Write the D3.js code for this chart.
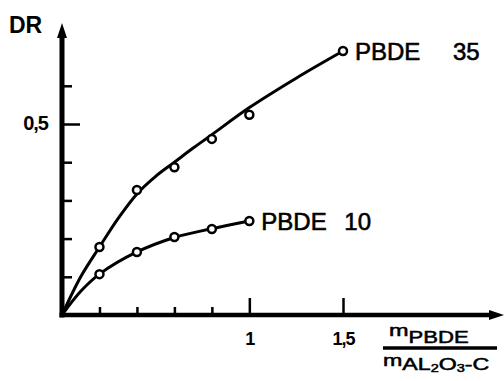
<!DOCTYPE html>
<html>
<head>
<meta charset="utf-8">
<script src="https://cdn.jsdelivr.net/npm/d3@7"></script>
<style>
  html, body { margin: 0; padding: 0; background: #fff; }
  svg { display: block; }
  text { font-family: "Liberation Sans", Arial, sans-serif; fill: #000; }
</style>
</head>
<body>
<svg id="chart" width="504" height="381"></svg>
<script>
// ---- data ----
const xMeasured = [0.2, 0.4, 0.6, 0.8, 1.0, 1.5];
const pbde35Points = [0.178, 0.327, 0.387, 0.461, 0.524, 0.691];
const xMeasured10 = [0.2, 0.4, 0.6, 0.8, 1.0];
const pbde10Points = [0.107, 0.165, 0.204, 0.225, 0.246];

// hand-drawn fitted curves
const xCurve35 = [0, 0.1, 0.2, 0.3, 0.4, 0.5, 0.6, 0.7, 0.8, 1.0, 1.25, 1.5];
const yCurve35 = [0, 0.1, 0.178, 0.253, 0.317, 0.363, 0.40, 0.437, 0.472, 0.543, 0.62, 0.691];
const xCurve10 = [0, 0.1, 0.2, 0.4, 0.6, 0.8, 1.0];
const yCurve10 = [0, 0.062, 0.107, 0.165, 0.203, 0.226, 0.246];

const xMinorTicks = [0.2, 0.4, 0.6, 0.8];
const xMajorTicks = [1, 1.5];
const xTickLabels = ["1", "1,5"];
const yMinorTicks = [0.1, 0.2, 0.3, 0.4, 0.6];
const yMajorTicks = [0.5];
const yTickLabels = ["0,5"];
const seriesNames = ["PBDE", "PBDE"];
const seriesNums = ["35", "10"];

// ---- layout ----
const svg = d3.select("#chart");
const x = d3.scaleLinear().domain([0, 1.5]).range([62, 343]);
const y = d3.scaleLinear().domain([0, 0.5]).range([315, 124]);
const ox = x(0), oy = y(0);

// axes (ticks inside)
const gx = svg.append("g").attr("transform", `translate(0,${oy})`);
gx.call(d3.axisBottom(x).tickValues(xMinorTicks).tickSizeInner(-8).tickSizeOuter(0).tickFormat(""));
const gx2 = svg.append("g").attr("transform", `translate(0,${oy})`);
gx2.call(d3.axisBottom(x).tickValues(xMajorTicks).tickSizeInner(-17).tickSizeOuter(0).tickPadding(17)
  .tickFormat((d, i) => xTickLabels[i]));
const gy = svg.append("g").attr("transform", `translate(${ox},0)`);
gy.call(d3.axisLeft(y).tickValues(yMinorTicks).tickSizeInner(-10).tickSizeOuter(0).tickFormat(""));
const gy2 = svg.append("g").attr("transform", `translate(${ox},0)`);
gy2.call(d3.axisLeft(y).tickValues(yMajorTicks).tickSizeInner(-18).tickSizeOuter(0).tickPadding(14)
  .tickFormat((d, i) => yTickLabels[i]));
svg.selectAll(".domain").remove();
svg.selectAll(".tick line").attr("stroke", "#000").attr("stroke-width", 2.5);
svg.selectAll(".tick text").attr("font-size", 18).attr("font-weight", "bold")
  .attr("font-family", "'Liberation Sans', Arial, sans-serif").attr("fill", "#000")
  .attr("letter-spacing", -1);
gy2.selectAll(".tick text").attr("font-size", 20).attr("dy", "0.25em");

// axis lines with arrowheads
svg.append("line").attr("x1", ox).attr("y1", oy + 2.5).attr("x2", ox).attr("y2", 34)
  .attr("stroke", "#000").attr("stroke-width", 5);
svg.append("path").attr("d", `M${ox},23 L${ox + 5},38 L${ox - 5},38 Z`).attr("fill", "#000");
svg.append("line").attr("x1", ox - 2.5).attr("y1", oy).attr("x2", 494).attr("y2", oy)
  .attr("stroke", "#000").attr("stroke-width", 4.5);
svg.append("path").attr("d", `M504,${oy} L489,${oy - 5} L489,${oy + 5} Z`).attr("fill", "#000");

// curves
const line = d3.line().x(d => x(d[0])).y(d => y(d[1])).curve(d3.curveCatmullRom.alpha(0.5));
svg.append("path").datum(xCurve35.map((v, i) => [v, yCurve35[i]]))
  .attr("d", line).attr("fill", "none").attr("stroke", "#000").attr("stroke-width", 3);
svg.append("path").datum(xCurve10.map((v, i) => [v, yCurve10[i]]))
  .attr("d", line).attr("fill", "none").attr("stroke", "#000").attr("stroke-width", 3);

// points
const pts = xMeasured.map((v, i) => [v, pbde35Points[i]])
  .concat(xMeasured10.map((v, i) => [v, pbde10Points[i]]));
svg.selectAll("circle.pt").data(pts).enter().append("circle")
  .attr("class", "pt").attr("cx", d => x(d[0])).attr("cy", d => y(d[1])).attr("r", 4)
  .attr("fill", "#fff").attr("stroke", "#000").attr("stroke-width", 2.5);

// series labels
const lastPts = [[1.5, pbde35Points[5]], [1.0, pbde10Points[4]]];
const numOffsets = [98, 83];
lastPts.forEach((p, i) => {
  svg.append("text").attr("x", x(p[0]) + 12).attr("y", y(p[1]) + 8.5)
    .attr("font-size", 24).attr("stroke", "#000").attr("stroke-width", 0.6).text(seriesNames[i]);
  svg.append("text").attr("x", x(p[0]) + 12 + numOffsets[i]).attr("y", y(p[1]) + 8.5)
    .attr("font-size", 24).attr("stroke", "#000").attr("stroke-width", 0.6).text(seriesNums[i]);
});

// y axis title
svg.append("text").attr("x", 9).attr("y", 33).attr("font-size", 23).attr("font-weight", "bold").text("DR");

// x axis title (fraction)
const num = svg.append("text").attr("transform", "translate(389,343) scale(1.38,1)")
  .attr("stroke", "#000").attr("stroke-width", 0.5);
num.append("tspan").attr("font-size", 17).attr("dy", -7).text("m");
num.append("tspan").attr("font-size", 16).attr("dy", 7).text("PBDE");
svg.append("line").attr("x1", 383).attr("x2", 497).attr("y1", 348).attr("y2", 348)
  .attr("stroke", "#000").attr("stroke-width", 3.5);
const den = svg.append("text").attr("transform", "translate(383,370) scale(1.45,1)")
  .attr("stroke", "#000").attr("stroke-width", 0.5);
den.append("tspan").attr("font-size", 16).attr("dy", -4).text("m");
den.append("tspan").attr("font-size", 16).attr("dy", 4).text("AL");
den.append("tspan").attr("font-size", 10).attr("dy", 2).text("2");
den.append("tspan").attr("font-size", 16).attr("dy", -2).text("O");
den.append("tspan").attr("font-size", 10).attr("dy", 2).text("3");
den.append("tspan").attr("font-size", 16).attr("dy", -2).text("-C");
</script>
</body>
</html>
